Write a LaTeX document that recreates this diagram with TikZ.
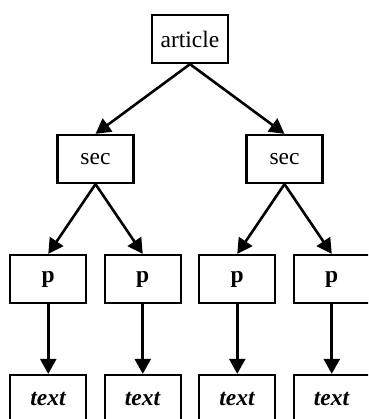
\documentclass[tikz,border=0pt]{standalone}
\usepackage{fontspec}
\setmainfont{Liberation Serif}
\usetikzlibrary{arrows.meta}
\begin{document}
\begin{tikzpicture}[x=1pt,y=1pt,
		level/.style={sibling distance=189pt/#1},
		level distance=120pt,
		box/.style={rectangle,draw,line width=2.3pt,minimum width=76pt,minimum height=48pt,inner sep=0pt,font=\fontsize{23.5}{27}\selectfont},
		edge from parent/.style={draw,line width=2.6pt,-{Triangle[length=15pt,width=16pt]}},
		parent anchor=south,child anchor=north]
		\useasboundingbox (0,0) rectangle (368,-419);
		\clip (0,0) rectangle (368,-419);
		\node [box] (0) at (190,-39) {article}
		child { node [box] (1) {sec}
			child { node [box] (3) {\textbf{p}}
				child { node [box] (7) {\textbf{\textit{text}}} }
			}
			child { node [box] (4) {\textbf{p}}
				child { node [box] (8) {\textbf{\textit{text}}} }
			}
		}
		child { node [box] (2) {sec}
			child { node [box] (5) {\textbf{p}}
				child { node [box] (9) {\textbf{\textit{text}}} }
			}
			child { node [box] (6) {\textbf{p}}
				child { node [box] (10) {\textbf{\textit{text}}} }
			}
		};
	\end{tikzpicture}
\end{document}
